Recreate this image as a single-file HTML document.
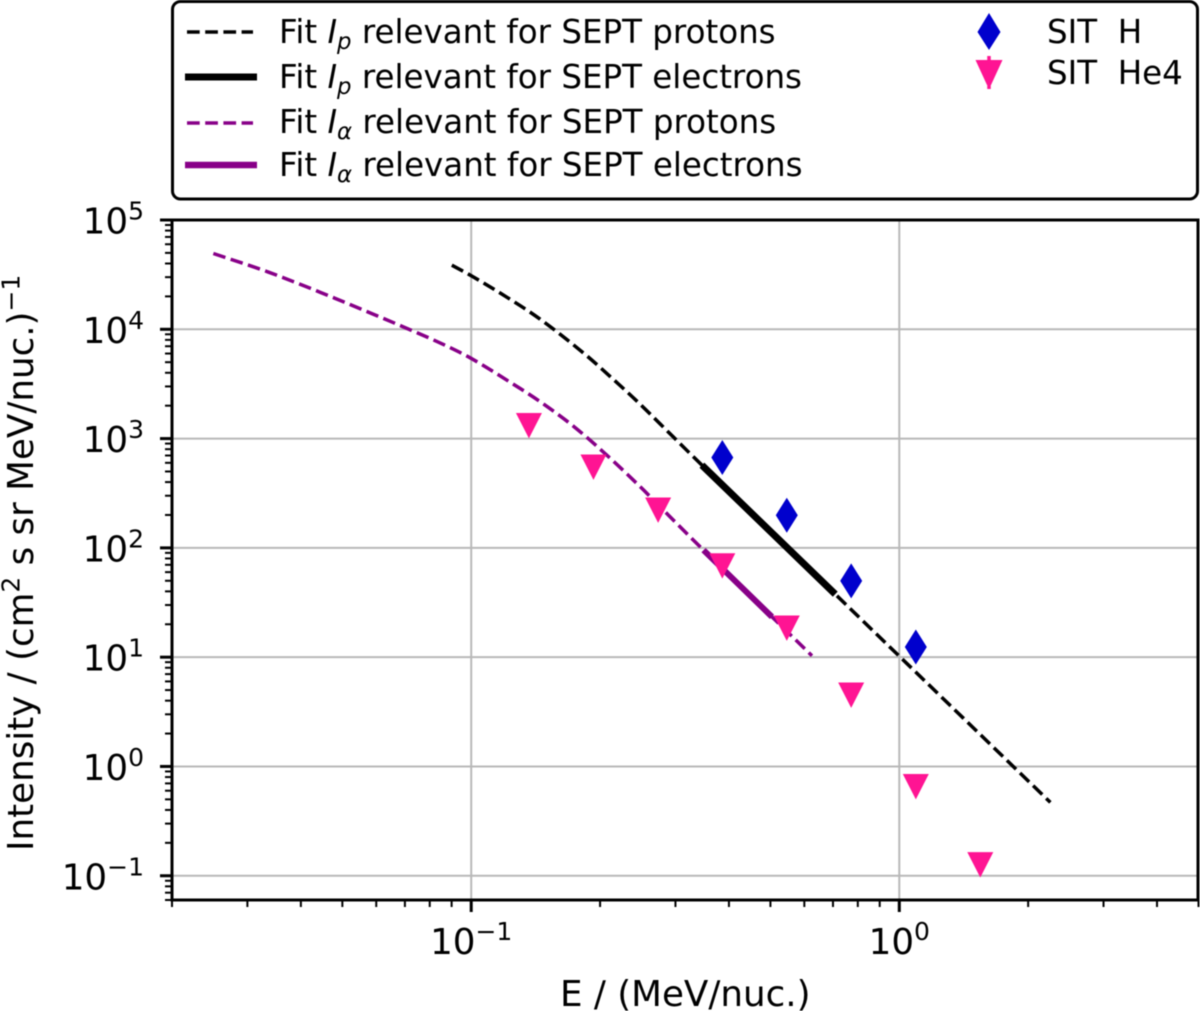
<!DOCTYPE html>
<html lang="en">
<head>
<meta charset="utf-8">
<title>Intensity vs energy</title>
<style>
html,body{margin:0;padding:0;background:#fff;}
svg{display:block;filter:blur(0.4px);}
text{font-family:"DejaVu Sans","Liberation Sans",sans-serif;fill:#000;}
</style>
</head>
<body>
<svg id="chart" xmlns="http://www.w3.org/2000/svg" width="1200" height="1011" viewBox="0 0 1200 1011">
  <rect x="0" y="0" width="1200" height="1011" fill="#fff"/>
  <g id="grid"></g>
  <g id="series"></g>
  <rect x="172" y="220" width="1026" height="680" fill="none" stroke="#000" stroke-width="3"/>
  <g id="ticks"></g>

  <text x="560" y="1006" font-size="35.7">E / (MeV/nuc.)</text>
  <text transform="translate(33,851) rotate(-90)" font-size="35.7">Intensity / (cm<tspan font-size="25" dy="-13.5">2</tspan><tspan dy="13.5"> s sr MeV/nuc.)</tspan><tspan font-size="25" dy="-13.5">−1</tspan></text>

  <g>
    <rect x="172.5" y="1.5" width="1025" height="197.5" rx="8" ry="8" fill="#fff" stroke="#000" stroke-width="3"/>

    <line x1="187" y1="32" x2="253" y2="32" stroke="#000" stroke-width="3.5" stroke-dasharray="12.7 5.5"/>
    <text x="279" y="43" font-size="32.5">Fit <tspan font-style="italic">I</tspan><tspan font-style="italic" font-size="22.8" dy="6">p</tspan><tspan dy="-6"> relevant for SEPT protons</tspan></text>

    <line x1="185" y1="77" x2="257" y2="77" stroke="#000" stroke-width="7"/>
    <text x="279" y="88" font-size="32.5">Fit <tspan font-style="italic">I</tspan><tspan font-style="italic" font-size="22.8" dy="6">p</tspan><tspan dy="-6"> relevant for SEPT electrons</tspan></text>

    <line x1="187" y1="123" x2="253" y2="123" stroke="#880088" stroke-width="3.5" stroke-dasharray="12.7 5.5"/>
    <text x="279" y="133" font-size="32.5">Fit <tspan font-style="italic">I</tspan><tspan font-style="italic" font-size="22.8" dy="6">α</tspan><tspan dy="-6"> relevant for SEPT protons</tspan></text>

    <line x1="185" y1="165" x2="257" y2="165" stroke="#880088" stroke-width="6.5"/>
    <text x="279" y="176" font-size="32.5">Fit <tspan font-style="italic">I</tspan><tspan font-style="italic" font-size="22.8" dy="6">α</tspan><tspan dy="-6"> relevant for SEPT electrons</tspan></text>

    <polygon points="989,13 1000.5,32 989,50 977.5,32" fill="#0000cd"/>
    <text x="1047" y="43" font-size="32.5" xml:space="preserve">SIT  H</text>

    <polygon points="975.5,60 1002.5,60 991,85 987,85" fill="#ff1493"/>
    <line x1="989" y1="56" x2="989" y2="89" stroke="#ff1493" stroke-width="3.5"/>
    <text x="1047" y="84" font-size="32.5" xml:space="preserve">SIT  He4</text>
  </g>
</svg>
<script>
// ---- Chart data ----
const ipProtonE = [0.0901, 0.0998, 0.1211, 0.1449, 0.1829, 0.2149, 0.2481, 0.2969, 0.3459, 0.7086, 1.015, 2.254];
const ipProtonI = [38600, 31050, 19670, 12370, 6070, 3475, 2063, 1030, 571, 37.7, 9.65, 0.469];
const ipElectronE = [0.3459, 0.7086];
const ipElectronI = [571, 37.7];
const iaProtonE = [0.02498, 0.03329, 0.04434, 0.05907, 0.07328, 0.08582, 0.09979, 0.1233, 0.1449, 0.1733, 0.2074, 0.2481, 0.289, 0.3489, 0.5041, 0.6252];
const iaProtonI = [49350, 33800, 21850, 13740, 9610, 7310, 5440, 3280, 2176, 1298, 705, 363, 199, 95.3, 23.4, 10.3];
const iaElectronE = [0.3489, 0.5041];
const iaElectronI = [95.3, 23.4];
const sitHE = [0.386, 0.546, 0.772, 1.093];
const sitHI = [671, 199, 49.9, 12.4];
const sitHe4E = [0.1364, 0.193, 0.2733, 0.386, 0.546, 0.772, 1.093, 1.546];
const sitHe4I = [1312, 547, 221, 68.3, 18.4, 4.49, 0.653, 0.126];
const xTickExponents = [-1, 0];
const yTickExponents = [-1, 0, 1, 2, 3, 4, 5];
const xDomain = [0.02, 5];
const yDomain = [0.06, 100000];

const SVG_NS = 'http://www.w3.org/2000/svg';
const plot = { left: 172, right: 1198.5, top: 220, bottom: 900 };

function xScale(v) {
  const a = Math.log10(xDomain[0]), b = Math.log10(xDomain[1]);
  return plot.left + (Math.log10(v) - a) / (b - a) * (plot.right - plot.left);
}
function yScale(v) {
  const a = Math.log10(yDomain[0]), b = Math.log10(yDomain[1]);
  return plot.bottom - (Math.log10(v) - a) / (b - a) * (plot.bottom - plot.top);
}
function make(tag, parent) {
  const el = document.createElementNS(SVG_NS, tag);
  parent.appendChild(el);
  return el;
}
function smoothPath(xs, ys) {
  const p = xs.map(function (x, i) { return [xScale(x), yScale(ys[i])]; });
  let d = 'M' + p[0][0].toFixed(2) + ' ' + p[0][1].toFixed(2);
  for (let i = 0; i < p.length - 1; i++) {
    const p0 = p[Math.max(i - 1, 0)], p1 = p[i], p2 = p[i + 1], p3 = p[Math.min(i + 2, p.length - 1)];
    const s1 = Math.hypot(p2[0] - p1[0], p2[1] - p1[1]) / Math.max(1e-6, Math.hypot(p2[0] - p0[0], p2[1] - p0[1]));
    const s2 = Math.hypot(p2[0] - p1[0], p2[1] - p1[1]) / Math.max(1e-6, Math.hypot(p3[0] - p1[0], p3[1] - p1[1]));
    const c1x = p1[0] + (p2[0] - p0[0]) * s1 / 3, c1y = p1[1] + (p2[1] - p0[1]) * s1 / 3;
    const c2x = p2[0] - (p3[0] - p1[0]) * s2 / 3, c2y = p2[1] - (p3[1] - p1[1]) * s2 / 3;
    d += 'C' + c1x.toFixed(2) + ' ' + c1y.toFixed(2) + ' ' + c2x.toFixed(2) + ' ' + c2y.toFixed(2) + ' ' + p2[0].toFixed(2) + ' ' + p2[1].toFixed(2);
  }
  return d;
}
function powerLabel(el, exponent, supSize, rise) {
  const base = document.createElementNS(SVG_NS, 'tspan');
  base.textContent = '10';
  el.appendChild(base);
  const sup = document.createElementNS(SVG_NS, 'tspan');
  sup.setAttribute('font-size', supSize);
  sup.setAttribute('dy', -rise);
  sup.textContent = String(exponent).replace('-', '\u2212');
  el.appendChild(sup);
}

const gridLayer = document.getElementById('grid');
const seriesLayer = document.getElementById('series');
const tickLayer = document.getElementById('ticks');

// grid
xTickExponents.forEach(function (e) {
  const x = xScale(Math.pow(10, e));
  const g = make('line', gridLayer);
  
  
  g.setAttribute('x1', x); g.setAttribute('x2', x);
  g.setAttribute('y1', plot.top); g.setAttribute('y2', plot.bottom);
  g.setAttribute('stroke', '#b8b8b8'); g.setAttribute('stroke-width', 2);
});
yTickExponents.forEach(function (e) {
  const y = yScale(Math.pow(10, e));
  const g = make('line', gridLayer);
  
  
  g.setAttribute('x1', plot.left); g.setAttribute('x2', plot.right);
  g.setAttribute('y1', y); g.setAttribute('y2', y);
  g.setAttribute('stroke', '#b8b8b8'); g.setAttribute('stroke-width', 2);
});

// x ticks
for (let e = -2; e <= 0; e++) {
  for (let m = 1; m <= 9; m++) {
    const v = m * Math.pow(10, e);
    if (v < xDomain[0] * 0.999 || v > xDomain[1] * 1.001) continue;
    const major = m === 1;
    const x = xScale(v);
    const t = make('line', tickLayer);
    
    
    t.setAttribute('x1', x); t.setAttribute('x2', x);
    t.setAttribute('y1', plot.bottom); t.setAttribute('y2', plot.bottom + (major ? 12 : 7));
    t.setAttribute('stroke', '#000'); t.setAttribute('stroke-width', major ? 3 : 2);
  }
}
// y ticks
for (let e = -2; e <= 5; e++) {
  for (let m = 1; m <= 9; m++) {
    const v = m * Math.pow(10, e);
    if (v < yDomain[0] * 0.999 || v > yDomain[1] * 1.001) continue;
    const major = m === 1;
    const y = yScale(v);
    const t = make('line', tickLayer);
    
    
    t.setAttribute('x1', plot.left - (major ? 12 : 7)); t.setAttribute('x2', plot.left);
    t.setAttribute('y1', y); t.setAttribute('y2', y);
    t.setAttribute('stroke', '#000'); t.setAttribute('stroke-width', major ? 3 : 2);
  }
}
// tick labels
xTickExponents.forEach(function (e) {
  const label = make('text', tickLayer);
  
  
  label.setAttribute('x', xScale(Math.pow(10, e)));
  label.setAttribute('y', 954);
  label.setAttribute('text-anchor', 'middle');
  label.setAttribute('font-size', 35.7);
  powerLabel(label, e, 25, 14);
});
yTickExponents.forEach(function (e) {
  const label = make('text', tickLayer);
  
  
  label.setAttribute('x', 144);
  label.setAttribute('y', yScale(Math.pow(10, e)) + 13.5);
  label.setAttribute('text-anchor', 'end');
  label.setAttribute('font-size', 35.7);
  powerLabel(label, e, 25, 14);
});

// series lines
const iaDash = make('path', seriesLayer);


iaDash.setAttribute('d', smoothPath(iaProtonE, iaProtonI));
iaDash.setAttribute('fill', 'none');
iaDash.setAttribute('stroke', '#880088');
iaDash.setAttribute('stroke-width', 3.5);
iaDash.setAttribute('stroke-dasharray', '12.7 5.5');

const ipDash = make('path', seriesLayer);


ipDash.setAttribute('d', smoothPath(ipProtonE, ipProtonI));
ipDash.setAttribute('fill', 'none');
ipDash.setAttribute('stroke', '#000');
ipDash.setAttribute('stroke-width', 3.5);
ipDash.setAttribute('stroke-dasharray', '12.7 5.5');

const ipSolid = make('path', seriesLayer);


ipSolid.setAttribute('d', smoothPath(ipElectronE, ipElectronI));
ipSolid.setAttribute('fill', 'none');
ipSolid.setAttribute('stroke', '#000');
ipSolid.setAttribute('stroke-width', 7);

const iaSolid = make('path', seriesLayer);


iaSolid.setAttribute('d', smoothPath(iaElectronE, iaElectronI));
iaSolid.setAttribute('fill', 'none');
iaSolid.setAttribute('stroke', '#880088');
iaSolid.setAttribute('stroke-width', 6);

// markers
sitHE.forEach(function (e, i) {
  const cx = xScale(e), cy = yScale(sitHI[i]);
  const m = make('polygon', seriesLayer);
  
  
  m.setAttribute('points', [[cx, cy - 17.5], [cx + 11, cy], [cx, cy + 17.5], [cx - 11, cy]].map(function (p) { return p.join(','); }).join(' '));
  m.setAttribute('fill', '#0000cd');
});
sitHe4E.forEach(function (e, i) {
  const cx = xScale(e), cy = yScale(sitHe4I[i]);
  const m = make('polygon', seriesLayer);
  
  
  m.setAttribute('points', [[cx - 13, cy - 12.7], [cx + 13, cy - 12.7], [cx, cy + 12.7]].map(function (p) { return p.join(','); }).join(' '));
  m.setAttribute('fill', '#ff1493');
});
</script>
</body>
</html>
